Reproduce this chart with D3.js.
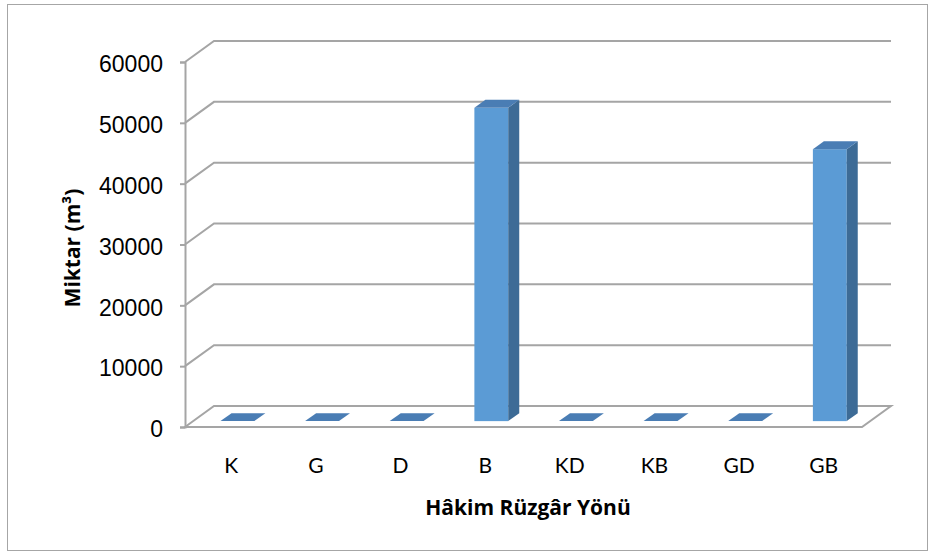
<!DOCTYPE html>
<html>
<head>
<meta charset="utf-8">
<script src="https://cdn.jsdelivr.net/npm/d3@7"></script>
<style>
    body { margin: 0; background: #fff; }
    svg { display: block; font-family: Lato, "Open Sans", sans-serif; }
</style>
</head>
<body>
<div id="chart"></div>
<script>
// Hakim ruzgar yonu chart data
const categories = ['K', 'G', 'D', 'B', 'KD', 'KB', 'GD', 'GB'];
const values = [0, 0, 0, 51500, 0, 0, 0, 44700];
const yTicks = [0, 10000, 20000, 30000, 40000, 50000, 60000];

const width = 931;
const height = 555;

// front plane of the 3D box
const plot = { left: 185, right: 862, top: 62, bottom: 427 };
const depth = { dx: 29, dy: -21 };
// bars sit between these depth fractions
const barDepth = [0.28, 0.66];

const svg = d3.select('#chart')
    .append('svg')
    .attr('width', width)
    .attr('height', height);

// outer frame
svg.append('rect')
    .attr('x', 7.5)
    .attr('y', 4.5)
    .attr('width', 920)
    .attr('height', 546)
    .attr('fill', '#fff')
    .attr('stroke', '#a6a6a6')
    .attr('stroke-width', 1);

const xScale = d3.scaleBand()
    .domain(categories)
    .range([plot.left, plot.right]);

const yScale = d3.scaleLinear()
    .domain([0, 60000])
    .range([plot.bottom, plot.top]);

const gridColor = '#a5a5a5';

// back wall gridlines with diagonals to the front axis
yTicks.forEach(t => {
    const y = yScale(t);
    if (t === 0) return;
    svg.append('path')
        .attr('d', `M${plot.left},${y} L${plot.left + depth.dx},${y + depth.dy} L${plot.right + depth.dx},${y + depth.dy}`)
        .attr('fill', 'none')
        .attr('stroke', gridColor)
        .attr('stroke-width', 2);
});

// floor
const y0 = yScale(0);
svg.append('path')
    .attr('d', `M${plot.left},${y0} L${plot.left + depth.dx},${y0 + depth.dy} L${plot.right + depth.dx},${y0 + depth.dy} L${plot.right},${y0} Z`)
    .attr('fill', 'none')
    .attr('stroke', gridColor)
    .attr('stroke-width', 2);

// y axis
const yAxis = svg.append('g')
    .attr('transform', `translate(${plot.left},0)`)
    .call(d3.axisLeft(yScale).tickValues(yTicks).tickSize(5).tickPadding(17).tickFormat(d3.format('d')));

yAxis.select('.domain').attr('stroke', gridColor).attr('stroke-width', 2);
yAxis.selectAll('.tick line').attr('stroke', gridColor).attr('stroke-width', 2);
yAxis.selectAll('.tick text')
    .attr('fill', '#000')
    .style('font-size', '23px')
    .attr('dy', '0.42em');

// bars
const barW = xScale.bandwidth() / 2.5;
const f0 = barDepth[0], f1 = barDepth[1];
const bdx = (f1 - f0) * depth.dx;
const bdy = (f1 - f0) * depth.dy;

const bars = svg.selectAll('.bar')
    .data(categories.map((c, i) => ({ cat: c, value: values[i] })))
    .enter()
    .append('g')
    .attr('class', 'bar')
    .attr('transform', d => `translate(${xScale(d.cat) + (xScale.bandwidth() - barW) / 2 + f0 * depth.dx + 2},${f0 * depth.dy})`);

bars.each(function(d) {
    const g = d3.select(this);
    const top = yScale(d.value);
    const bottom = yScale(0);

    if (d.value > 0) {
        // front face
        g.append('rect')
            .attr('x', 0)
            .attr('y', top)
            .attr('width', barW)
            .attr('height', bottom - top)
            .attr('fill', '#5b9bd5');
        // side face
        g.append('path')
            .attr('d', `M${barW},${top} L${barW + bdx},${top + bdy} L${barW + bdx},${bottom + bdy} L${barW},${bottom} Z`)
            .attr('fill', '#3d6b96');
    }
    // top face
    g.append('path')
        .attr('d', `M0,${top} L${bdx},${top + bdy} L${barW + bdx},${top + bdy} L${barW},${top} Z`)
        .attr('fill', '#4a7db4');
});

// category labels
svg.selectAll('.cat-label')
    .data(categories)
    .enter()
    .append('text')
    .attr('class', 'cat-label')
    .attr('x', d => xScale(d) + xScale.bandwidth() / 2 + 4)
    .attr('y', 473)
    .attr('text-anchor', 'middle')
    .style('font-size', '21px')
    .text(d => d);

// axis titles
svg.append('text')
    .attr('x', 528)
    .attr('y', 515)
    .attr('text-anchor', 'middle')
    .style('font-family', '"Open Sans", sans-serif')
    .style('font-size', '21px')
    .style('font-weight', 'bold')
    .text('Hâkim Rüzgâr Yönü');

svg.append('text')
    .attr('transform', 'rotate(-90)')
    .attr('x', -248)
    .attr('y', 80)
    .attr('text-anchor', 'middle')
    .style('font-family', '"Open Sans", sans-serif')
    .style('font-size', '21px')
    .style('font-weight', 'bold')
    .text('Miktar (m³)');
</script>
</body>
</html>
